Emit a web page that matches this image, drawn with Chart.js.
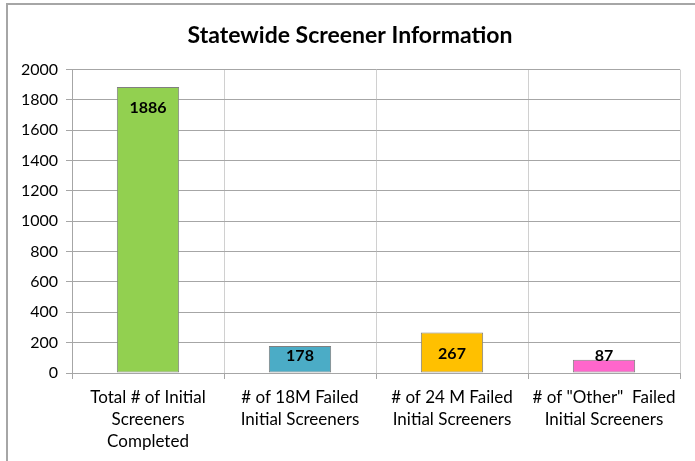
<!DOCTYPE html>
<html>
<head>
<meta charset="utf-8">
<script src="https://cdn.jsdelivr.net/npm/chart.js@4/dist/chart.umd.min.js"></script>
<style>
    html, body { margin: 0; padding: 0; background: #fff; }
    #wrap { position: relative; width: 695px; height: 461px; }
</style>
</head>
<body>
<div id="wrap"><canvas id="screenerChart" width="695" height="461"></canvas></div>
<script>
// values
const categories = [
    ["Total # of Initial", "Screeners", "Completed"],
    ["# of 18M Failed", "Initial Screeners"],
    ["# of 24 M Failed", "Initial Screeners"],
    ['# of "Other"  Failed', "Initial Screeners"],
];
const screenerCounts = [1886, 178, 267, 87];
const barColors = ["#92D050", "#4BACC6", "#FFC000", "#FF66CC"];
const yMax = 2000;
const yStep = 200;

const FONT = "Lato, 'Liberation Sans', sans-serif";

// outer chart frame (top and left edges are all that show in the crop)
const framePlugin = {
    id: "frame",
    beforeDraw(chart) {
        const ctx = chart.ctx;
        ctx.save();
        ctx.fillStyle = "#fff";
        ctx.fillRect(0, 0, chart.width, chart.height);
        ctx.strokeStyle = "#a6a6a6";
        ctx.lineWidth = 2;
        ctx.beginPath();
        ctx.moveTo(7, chart.height);
        ctx.lineTo(7, 4);
        ctx.lineTo(chart.width, 4);
        ctx.stroke();
        ctx.restore();
    }
};

// bold value labels inside the top of each bar
const valueLabels = {
    id: "valueLabels",
    afterDatasetsDraw(chart) {
        const ctx = chart.ctx;
        const meta = chart.getDatasetMeta(0);
        ctx.save();
        ctx.font = "bold 16px " + FONT;
        ctx.fillStyle = "#000";
        ctx.textAlign = "center";
        ctx.textBaseline = "middle";
        meta.data.forEach((bar, i) => {
            const y = Math.min(bar.y + 21, bar.base - 17);
            ctx.fillText(String(screenerCounts[i]), bar.x, y);
        });
        ctx.restore();
    }
};

new Chart(document.getElementById("screenerChart"), {
    type: "bar",
    data: {
        labels: categories,
        datasets: [{
            data: screenerCounts,
            backgroundColor: barColors,
            borderColor: "#808080",
            borderWidth: 1,
            borderSkipped: false,
            barPercentage: 0.41,
            categoryPercentage: 1,
        }]
    },
    options: {
        responsive: false,
        animation: false,
        layout: { padding: { left: 20, right: 15, top: 0, bottom: 0 } },
        plugins: {
            legend: { display: false },
            tooltip: { enabled: false },
            title: {
                display: true,
                text: "Statewide Screener Information",
                color: "#000",
                font: { family: FONT, size: 23, weight: "bold" },
                padding: { top: 22, bottom: 20 },
            },
        },
        scales: {
            x: {
                grid: { color: "#d0d0d0", lineWidth: 1, tickColor: "#a6a6a6", tickLength: 6, offset: true },
                border: { color: "#a6a6a6", width: 1 },
                ticks: {
                    color: "#000",
                    font: { family: FONT, size: 17, lineHeight: 1.3 },
                    maxRotation: 0,
                    autoSkip: false,
                    padding: 7,
                },
                afterFit(scale) { scale.height = 88; },
            },
            y: {
                min: 0,
                max: yMax,
                ticks: {
                    stepSize: yStep,
                    color: "#000",
                    font: { family: FONT, size: 16 },
                    padding: 8,
                    callback: (v) => String(v),
                },
                grid: { color: "#a6a6a6", tickColor: "#a6a6a6", tickLength: 6 },
                border: { color: "#a6a6a6", width: 1 },
                afterFit(scale) { scale.width = 52; },
            },
        },
    },
    plugins: [framePlugin, valueLabels],
});
</script>
</body>
</html>
